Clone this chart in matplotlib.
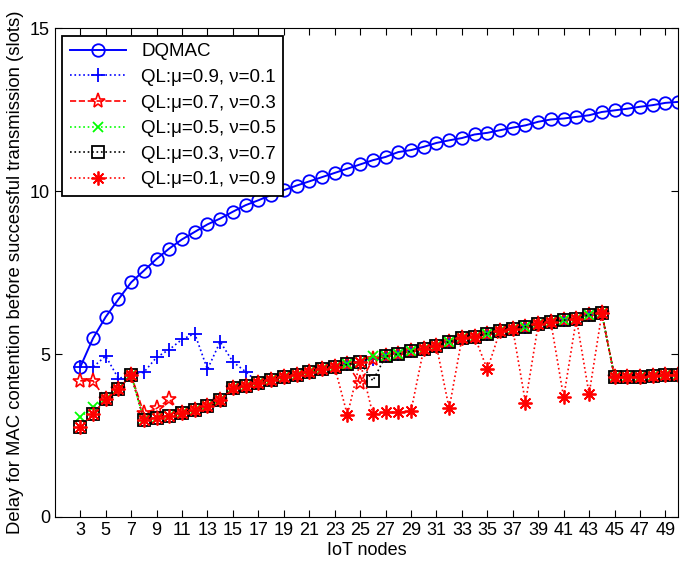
import numpy as np
import matplotlib
matplotlib.use("Agg")
import matplotlib.pyplot as plt

plt.rcParams['font.family'] = ['Liberation Sans', 'DejaVu Sans']

nodes = list(range(3, 51))

dqmac = [4.6, 5.48, 6.14, 6.68, 7.2, 7.56, 7.92, 8.24, 8.52, 8.75,
         8.98, 9.16, 9.37, 9.57, 9.72, 9.88, 10.03, 10.17, 10.3, 10.43,
         10.56, 10.69, 10.82, 10.95, 11.05, 11.2, 11.26, 11.36, 11.48, 11.56,
         11.63, 11.74, 11.79, 11.87, 11.95, 12.02, 12.13, 12.2, 12.23, 12.28,
         12.33, 12.43, 12.48, 12.53, 12.59, 12.64, 12.71, 12.74]

# common curve shared by most QL settings
base = [2.77, 3.15, 3.61, 3.92, 4.36, 2.98, 3.05, 3.11, 3.18, 3.28,
        3.4, 3.59, 3.95, 4.02, 4.12, 4.2, 4.3, 4.37, 4.45, 4.53,
        4.6, 4.68, 4.76, 4.84, 4.93, 5.0, 5.08, 5.16, 5.25, 5.38,
        5.48, 5.53, 5.63, 5.71, 5.77, 5.84, 5.91, 5.97, 6.04, 6.09,
        6.2, 6.25, 4.3, 4.3, 4.3, 4.33, 4.36, 4.36]

ql_09 = list(base)
for n, v in {3: 4.6, 4: 4.6, 5: 4.94, 6: 4.25, 8: 4.44, 9: 4.9, 10: 5.14,
             11: 5.45, 12: 5.63, 13: 4.53, 14: 5.38, 15: 4.76, 16: 4.46}.items():
    ql_09[n - 3] = v

ql_07 = list(base)
for n, v in {3: 4.18, 4: 4.18, 8: 3.18, 9: 3.33, 10: 3.61, 25: 4.1}.items():
    ql_07[n - 3] = v

ql_05 = list(base)
for n, v in {3: 3.06, 4: 3.37, 26: 4.94}.items():
    ql_05[n - 3] = v

ql_03 = list(base)
for n, v in {26: 4.18}.items():
    ql_03[n - 3] = v

ql_01 = list(base)
for n, v in {24: 3.13, 26: 3.15, 27: 3.21, 28: 3.21, 29: 3.25, 32: 3.33,
             35: 4.53, 38: 3.51, 41: 3.67, 43: 3.77}.items():
    ql_01[n - 3] = v

fig, ax = plt.subplots(figsize=(6.85, 5.65), dpi=100)
fig.subplots_adjust(left=0.08, right=0.99, top=0.95, bottom=0.085)

ax.plot(nodes, dqmac, '-', color='#0000ff', marker='o', mfc='none', ms=9, mew=1.3, lw=1.4,
        label='DQMAC')
ax.plot(nodes, ql_09, ':', color='#0000ff', marker='+', ms=10, mew=1.3, lw=1.2,
        label='QL:\u03bc=0.9, \u03bd=0.1')
ax.plot(nodes, ql_07, '--', color='#ff0000', marker='*', mfc='none', ms=11, mew=1.2, lw=1.2,
        label='QL:\u03bc=0.7, \u03bd=0.3')
ax.plot(nodes, ql_05, ':', color='#00ff00', marker='x', ms=7, mew=1.3, lw=1.2,
        label='QL:\u03bc=0.5, \u03bd=0.5')
ax.plot(nodes, ql_03, ':', color='black', marker='s', mfc='none', ms=8, mew=1.3, lw=1.2,
        label='QL:\u03bc=0.3, \u03bd=0.7')
ax.plot(nodes, ql_01, ':', color='#ff0000', marker=(8, 2, 0), ms=10, mew=1.3, lw=1.2,
        label='QL:\u03bc=0.1, \u03bd=0.9')

ax.set_xlim(1, 50)
ax.set_ylim(0, 15)
ax.set_xticks(range(3, 50, 2))
ax.set_yticks([0, 5, 10, 15])
ax.tick_params(direction='in', top=True, right=True, labelsize=13, length=5)
ax.set_xlabel('IoT nodes', fontsize=13, labelpad=2)
ax.set_ylabel('Delay for MAC contention before successful transmission (slots)', fontsize=13.3, labelpad=4)

leg = ax.legend(loc='upper left', fontsize=13.5, fancybox=False, framealpha=1,
                edgecolor='black', handlelength=3, borderaxespad=0.4, labelspacing=0.45)
leg.get_frame().set_linewidth(1.3)

fig.savefig('out.png')
